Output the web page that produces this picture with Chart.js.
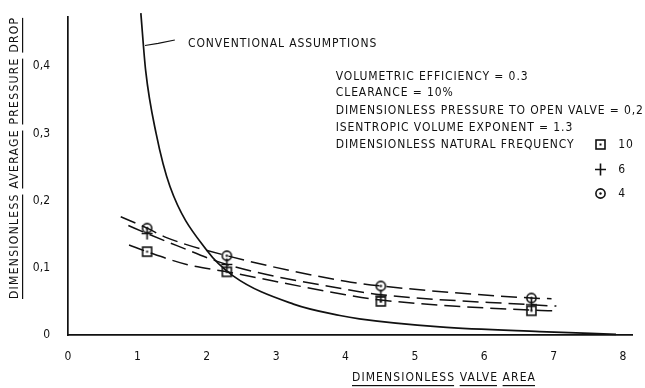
<!DOCTYPE html>
<html><head><meta charset="utf-8">
<script src="https://cdn.jsdelivr.net/npm/chart.js@4/dist/chart.umd.min.js"></script>
<style>html,body{margin:0;padding:0;background:#fff}#wrap{width:645px;height:388px;position:relative}canvas{display:block}</style>
</head><body><div id="wrap"><canvas id="c" width="645" height="388" style="width:645px;height:388px"></canvas></div>
<script>
// ---- data ----
const xTickValues = [0,1,2,3,4,5,6,7,8];
const yTickValues = [0,0.1,0.2,0.3,0.4];
const yTickLabels = ['0','0,1','0,2','0,3','0,4'];

const valveArea = [1.14, 2.29, 4.51, 6.68];
const freq10 = [0.124, 0.094, 0.050, 0.036];   // square
const freq6  = [0.151, 0.105, 0.058, 0.045];   // plus
const freq4  = [0.159, 0.118, 0.073, 0.055];   // circle

const fit10X = [0.88, 1.14, 1.71, 2.29, 4.0, 4.51, 6.68, 7.04];
const fit10Y = [0.134, 0.124, 0.105, 0.094, 0.060, 0.052, 0.037, 0.036];
const fit6X  = [0.87, 1.14, 1.57, 2.29, 4.0, 4.51, 6.68, 7.04];
const fit6Y  = [0.163, 0.151, 0.133, 0.105, 0.068, 0.060, 0.045, 0.043];
const fit4X  = [0.76, 1.14, 1.42, 2.29, 4.0, 4.51, 6.68, 6.97];
const fit4Y  = [0.176, 0.159, 0.145, 0.118, 0.080, 0.073, 0.055, 0.054];

const convX = [1.05, 1.12, 1.27, 1.47, 2.0, 2.38, 3.25, 3.92, 4.2, 5.36, 6.8, 7.9];
const convY = [0.479, 0.393, 0.300, 0.221, 0.126, 0.088, 0.046, 0.029, 0.024, 0.012, 0.005, 0.001];

const convLabel = 'CONVENTIONAL ASSUMPTIONS';
const leaderX = [1.11, 1.30, 1.54];
const leaderY = [0.431, 0.434, 0.439];

const noteLines = [
  'VOLUMETRIC EFFICIENCY = 0.3',
  'CLEARANCE = 10%',
  'DIMENSIONLESS PRESSURE TO OPEN VALVE = 0,2',
  'ISENTROPIC VOLUME EXPONENT = 1.3',
  'DIMENSIONLESS NATURAL FREQUENCY'
];
const legendLabels = ['10','6','4'];

const xTitle = 'DIMENSIONLESS VALVE AREA';
const yTitle = 'DIMENSIONLESS AVERAGE PRESSURE DROP';

// ---- styling ----
const INK = '#111111';
const FONT_FAMILY = '"Liberation Sans Narrow","DejaVu Sans Condensed","Roboto Condensed","DejaVu Sans",sans-serif';
const FONT = '12px ' + FONT_FAMILY;

function makeMarker(kind){
  const c = document.createElement('canvas');
  c.width = 13; c.height = 13;
  const g = c.getContext('2d');
  g.strokeStyle = INK; g.fillStyle = INK; g.lineWidth = 1.6;
  if (kind === 'square'){
    g.strokeRect(2,2,9,9);
    g.fillRect(5.5,5.5,2,2);
  } else if (kind === 'plus'){
    g.beginPath(); g.moveTo(6.5,0.5); g.lineTo(6.5,12.5); g.moveTo(1,6.5); g.lineTo(12,6.5); g.stroke();
  } else {
    g.beginPath(); g.arc(6.5,6.5,4.6,0,Math.PI*2); g.stroke();
    g.beginPath(); g.arc(6.5,6.5,1.2,0,Math.PI*2); g.fill();
  }
  return c;
}
const mkSquare = makeMarker('square');
const mkPlus = makeMarker('plus');
const mkCircle = makeMarker('circle');

const pts = (xs, ys) => xs.map((v,i)=>({x:v, y:ys[i]}));

function lineDs(data, dashed){
  return {
    data, showLine:true, borderColor:INK, borderWidth: dashed?1.5:1.7,
    borderDash: dashed?[16,7]:[], pointRadius:0, cubicInterpolationMode:'monotone',
    clip: dashed?undefined:false
  };
}
function markDs(ys, img){
  return {data: pts(valveArea, ys), showLine:false, pointStyle:img, pointRadius:6, borderColor:INK};
}

const notesPlugin = {
  id:'notes',
  afterDraw(chart){
    const {ctx, scales:{x, y}} = chart;
    ctx.save();
    ctx.fillStyle = INK; ctx.strokeStyle = INK;
    ctx.font = FONT; ctx.textBaseline = 'middle'; ctx.textAlign='left';
    try { ctx.letterSpacing = '0.9px'; } catch(e){}

    ctx.lineWidth = 1.1;
    ctx.beginPath();
    leaderX.forEach((v,i)=>{
      const px = x.getPixelForValue(v), py = y.getPixelForValue(leaderY[i]);
      if (i===0) ctx.moveTo(px,py); else ctx.lineTo(px,py);
    });
    ctx.stroke();
    ctx.fillText(convLabel, x.getPixelForValue(1.73), y.getPixelForValue(0.433));

    const noteYs = [0.384, 0.360, 0.334, 0.309, 0.283];
    noteLines.forEach((t,i)=>ctx.fillText(t, x.getPixelForValue(3.86), y.getPixelForValue(noteYs[i])));
    const legYs = [0.283, 0.246, 0.210];
    const imgs = [mkSquare, mkPlus, mkCircle];
    legYs.forEach((v,i)=>{
      const px = x.getPixelForValue(7.67), py = y.getPixelForValue(v);
      ctx.drawImage(imgs[i], Math.round(px-6.5), Math.round(py-6.5));
      ctx.fillText(legendLabels[i], x.getPixelForValue(7.93), py);
    });

    try { ctx.letterSpacing = '1.1px'; } catch(e){}
    const xt = 352, yt = 378;
    ctx.fillText(xTitle, xt, yt);
    let cx = xt;
    xTitle.split(' ').forEach((w)=>{
      const ww = ctx.measureText(w).width - 1.1;
      ctx.fillRect(cx, yt+7, ww, 1.2);
      cx += ww + 1.1 + ctx.measureText(' ').width;
    });

    try { ctx.letterSpacing = '1.3px'; } catch(e){}
    ctx.translate(15, 299);
    ctx.rotate(-Math.PI/2);
    ctx.fillText(yTitle, 0, 0);
    let cy = 0;
    yTitle.split(' ').forEach((w)=>{
      const ww = ctx.measureText(w).width - 1.3;
      ctx.fillRect(cy, 7, ww, 1.2);
      cy += ww + 1.3 + ctx.measureText(' ').width;
    });
    ctx.restore();
  }
};

new Chart(document.getElementById('c'), {
  type:'scatter',
  data:{ datasets:[
    lineDs(pts(convX, convY), false),
    lineDs(pts(fit10X, fit10Y), true),
    lineDs(pts(fit6X, fit6Y), true),
    lineDs(pts(fit4X, fit4Y), true),
    markDs(freq10, mkSquare),
    markDs(freq6, mkPlus),
    markDs(freq4, mkCircle)
  ]},
  options:{
    responsive:false, maintainAspectRatio:false, animation:false, devicePixelRatio:1,
    layout:{padding:{left:0, top:4, right:13, bottom:0}},
    plugins:{legend:{display:false}, tooltip:{enabled:false}},
    scales:{
      x:{ type:'linear', min:0, max:8.13,
        grid:{display:false}, border:{display:true, color:INK, width:1.7},
        afterBuildTicks: s => { s.ticks = xTickValues.map(v=>({value:v})); },
        afterFit: s => { s.height = 53; },
        ticks:{ color:INK, font:{family:FONT_FAMILY, size:12}, padding:7, maxRotation:0,
          callback: v => String(v) }
      },
      y:{ type:'linear', min:0, max:0.473,
        grid:{display:false}, border:{display:true, color:INK, width:1.7},
        afterBuildTicks: s => { s.ticks = yTickValues.map(v=>({value:v})); },
        afterFit: s => { s.width = 68; },
        ticks:{ color:INK, font:{family:FONT_FAMILY, size:12}, padding:10,
          callback: v => yTickLabels[yTickValues.findIndex(t=>Math.abs(t-v)<1e-9)] }
      }
    }
  },
  plugins:[notesPlugin]
});
</script></body></html>
